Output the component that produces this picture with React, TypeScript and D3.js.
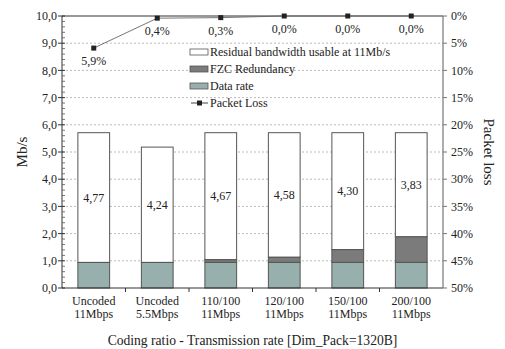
import React from "react";
import * as d3 from "d3";

// Stacked throughput per configuration (Mb/s) and packet loss (%)
const categories = ["Uncoded|11Mbps", "Uncoded|5.5Mbps", "110/100|11Mbps", "120/100|11Mbps", "150/100|11Mbps", "200/100|11Mbps"];
const dataRate = [0.94, 0.94, 0.94, 0.94, 0.94, 0.94];
const fzcRedundancy = [0, 0, 0.1, 0.19, 0.47, 0.94];
const residual = [4.77, 4.24, 4.67, 4.58, 4.3, 3.83];
const packetLoss = [5.9, 0.4, 0.3, 0.0, 0.0, 0.0];
const leftTicks = d3.range(0, 10.01, 1);
const rightTicks = d3.range(0, 50.01, 5);

const W = 505;
const H = 349;
const M = { left: 62, right: 443, top: 16, bottom: 288 };
const FONT = "'Liberation Serif', 'Times New Roman', serif";
const TEAL = "#97b0ae";
const GREY = "#7b7b7b";
const STROKE = "#555";

const comma = (f: string) => (v: number) => d3.format(f)(v).replace(".", ",");

export default function App() {
  const x = d3
    .scaleBand<string>()
    .domain(categories)
    .range([M.left, M.right])
    .paddingInner(0.5)
    .paddingOuter(0.25);
  const y = d3.scaleLinear().domain([0, 10]).range([M.bottom, M.top]);
  const yLoss = d3.scaleLinear().domain([0, 50]).range([M.top, M.bottom]);
  const bw = x.bandwidth();
  const cx = (c: string) => (x(c) as number) + bw / 2;
  const step = x.step();

  const minor = d3.range(0, 10.001, 0.2).filter((v) => Math.abs(v - Math.round(v)) > 1e-6);

  const lossLine = d3
    .line<number>()
    .x((_, i) => cx(categories[i]))
    .y((d) => yLoss(d));

  const legend = [
    { label: "Residual bandwidth usable at 11Mb/s", fill: "#fff" },
    { label: "FZC Redundancy", fill: GREY },
    { label: "Data rate", fill: TEAL },
  ];

  return (
    <svg width={W} height={H} style={{ display: "block", position: "absolute", left: 0, top: 0 }} fontFamily={FONT}>
      <rect width={W} height={H} fill="#fff" />
      {/* gridlines */}
      {leftTicks.slice(1, -1).map((t) => (
        <line key={t} x1={M.left} x2={M.right} y1={y(t)} y2={y(t)} stroke="#aaa" strokeWidth={0.8} strokeDasharray="2,2" />
      ))}

      {/* stacked bars */}
      {categories.map((c, i) => {
        const d0 = dataRate[i];
        const d1 = d0 + fzcRedundancy[i];
        const d2 = d1 + residual[i];
        const bx = x(c) as number;
        return (
          <g key={c}>
            <rect x={bx} y={y(d2)} width={bw} height={y(d1) - y(d2)} fill="#fff" stroke={STROKE} strokeWidth={1} />
            {fzcRedundancy[i] > 0 && (
              <rect x={bx} y={y(d1)} width={bw} height={y(d0) - y(d1)} fill={GREY} stroke={STROKE} strokeWidth={1} />
            )}
            <rect x={bx} y={y(d0)} width={bw} height={y(0) - y(d0)} fill={TEAL} stroke={STROKE} strokeWidth={1} />
            <text x={cx(c)} y={y((d1 + d2) / 2)} dy="0.35em" textAnchor="middle" fontSize={12} fill="#222">
              {comma(".2f")(residual[i])}
            </text>
          </g>
        );
      })}

      {/* frame: left axis, top border, bottom axis */}
      <line x1={M.left} x2={M.right} y1={M.top} y2={M.top} stroke="#333" strokeWidth={1} />
      <line x1={M.left} x2={M.right} y1={M.bottom} y2={M.bottom} stroke="#333" strokeWidth={1} />
      <line x1={M.left} x2={M.left} y1={M.top} y2={M.bottom} stroke="#333" strokeWidth={1} />
      <line x1={M.right} x2={M.right} y1={M.top} y2={M.bottom} stroke="#777" strokeWidth={1.2} />

      {/* left axis ticks */}
      {leftTicks.map((t) => (
        <g key={t}>
          <line x1={M.left - 4} x2={M.left + 3} y1={y(t)} y2={y(t)} stroke="#333" />
          <text x={M.left - 5} y={y(t)} dy="0.35em" textAnchor="end" fontSize={12} fill="#222">
            {comma(".1f")(t)}
          </text>
        </g>
      ))}
      {minor.map((t) => (
        <line key={t} x1={M.left} x2={M.left + 3} y1={y(t)} y2={y(t)} stroke="#555" strokeWidth={0.8} />
      ))}

      {/* right axis ticks */}
      {rightTicks.map((t) => (
        <g key={t}>
          <line x1={M.right} x2={M.right + 4} y1={yLoss(t)} y2={yLoss(t)} stroke="#777" />
          <text x={M.right + 8} y={yLoss(t)} dy="0.35em" fontSize={12} fill="#222">
            {t}%
          </text>
        </g>
      ))}

      {/* category ticks and labels */}
      {d3.range(1, categories.length).map((k) => (
        <line key={k} x1={M.left + step * k} x2={M.left + step * k} y1={M.bottom} y2={M.bottom + 4} stroke="#333" />
      ))}
      {categories.map((c) => {
        const [a, b] = c.split("|");
        return (
          <text key={c} x={cx(c)} y={M.bottom + 17} textAnchor="middle" fontSize={12} fill="#222">
            <tspan x={cx(c)}>{a}</tspan>
            <tspan x={cx(c)} dy={13}>{b}</tspan>
          </text>
        );
      })}

      {/* packet loss series */}
      <path d={lossLine(packetLoss) as string} fill="none" stroke="#666" strokeWidth={0.9} />
      {packetLoss.map((v, i) => (
        <g key={i}>
          <rect x={cx(categories[i]) - 2.5} y={yLoss(v) - 2.5} width={5} height={5} fill="#222" />
          <text x={cx(categories[i])} y={yLoss(v) + 13} dy="0.35em" textAnchor="middle" fontSize={12} fill="#222">
            {comma(".1f")(v)}%
          </text>
        </g>
      ))}

      {/* legend */}
      {legend.map((l, i) => (
        <g key={l.label} transform={`translate(190, ${52 + i * 17})`}>
          <rect x={0} y={-3} width={18} height={6} fill={l.fill} stroke={STROKE} strokeWidth={0.8} />
          <text x={20} y={0} dy="0.35em" fontSize={12} fill="#222">
            {l.label}
          </text>
        </g>
      ))}
      <g transform={`translate(190, ${52 + 3 * 17})`}>
        <line x1={1} x2={18} y1={0} y2={0} stroke="#444" strokeWidth={1} />
        <rect x={7} y={-2.5} width={5} height={5} fill="#222" />
        <text x={20} y={0} dy="0.35em" fontSize={12} fill="#222">
          Packet Loss
        </text>
      </g>

      {/* axis titles */}
      <text transform={`translate(22, ${(M.top + M.bottom) / 2}) rotate(-90)`} textAnchor="middle" dy="0.35em" fontSize={15} fill="#222">
        Mb/s
      </text>
      <text transform={`translate(489, ${(M.top + M.bottom) / 2}) rotate(90)`} textAnchor="middle" dy="0.35em" fontSize={15} fill="#222">
        Packet loss
      </text>
      <text x={(M.left + M.right) / 2} y={345} textAnchor="middle" fontSize={13.6} fill="#222">
        Coding ratio - Transmission rate [Dim_Pack=1320B]
      </text>
    </svg>
  );
}
